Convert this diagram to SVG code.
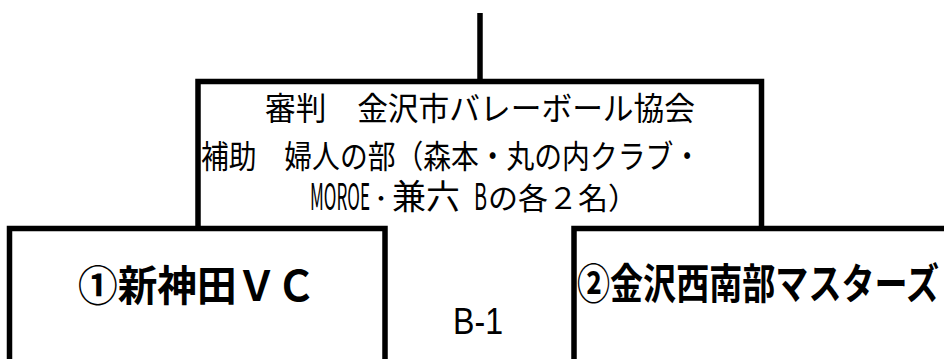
<svg xmlns="http://www.w3.org/2000/svg" width="944" height="359" viewBox="0 0 944 359">
<style>
.ln{fill:none;stroke:#000;stroke-width:5.5;stroke-linecap:butt;stroke-linejoin:miter}
.jp{font-family:"Noto Sans CJK JP","Noto Sans",sans-serif;fill:#000;font-weight:400}
.mid{font-size:32px}
.lat{font-size:33px}
.team{font-weight:700}
.lbl{font-family:"Liberation Sans",Arial,sans-serif;font-size:37px;fill:#000}
</style>
<rect width="944" height="359" fill="#fff"/>
<g id="connectors">
<line class="ln" x1="480" y1="13" x2="480" y2="82"/>
</g>
<g id="node-referee">
<path class="ln" d="M198,228 V81.5 H761.5 V228"/>
<text class="jp mid" x="265" y="120" textLength="430" lengthAdjust="spacingAndGlyphs">審判　金沢市バレーボール協会</text>
<text class="jp mid" x="201" y="168" textLength="500" lengthAdjust="spacingAndGlyphs">補助　婦人の部（森本・丸の内クラブ・</text>
<text class="jp lat" x="0" y="0" transform="translate(310,210) scale(0.55,1.12)" textLength="109" lengthAdjust="spacingAndGlyphs">MOROE</text>
<text class="jp" font-size="22" x="370" y="206">・</text>
<text class="jp" font-size="34" x="392" y="209">兼六</text>
<text class="jp lat" x="0" y="0" transform="translate(474,210) scale(0.645,1.12)" textLength="20.2" lengthAdjust="spacingAndGlyphs">B</text>
<text class="jp" font-size="30" x="488" y="209" textLength="150" lengthAdjust="spacingAndGlyphs">の各２名）</text>
</g>
<g id="node-team1">
<path class="ln" d="M9.5,359 V228.5 H385 V359"/>
<text class="jp team" font-size="42" x="78" y="301" textLength="238" lengthAdjust="spacingAndGlyphs">①新神田ＶＣ</text>
</g>
<g id="node-team2">
<path class="ln" d="M574,359 V228.5 H946"/>
<text class="jp team" font-size="33" x="0" y="0" transform="translate(577,299) scale(1,1.27)" textLength="362" lengthAdjust="spacingAndGlyphs">②金沢西南部マスターズ</text>
</g>
<g id="match-label">
<text class="lbl" x="453" y="334" textLength="50" lengthAdjust="spacingAndGlyphs">B-1</text>
</g>
</svg>
